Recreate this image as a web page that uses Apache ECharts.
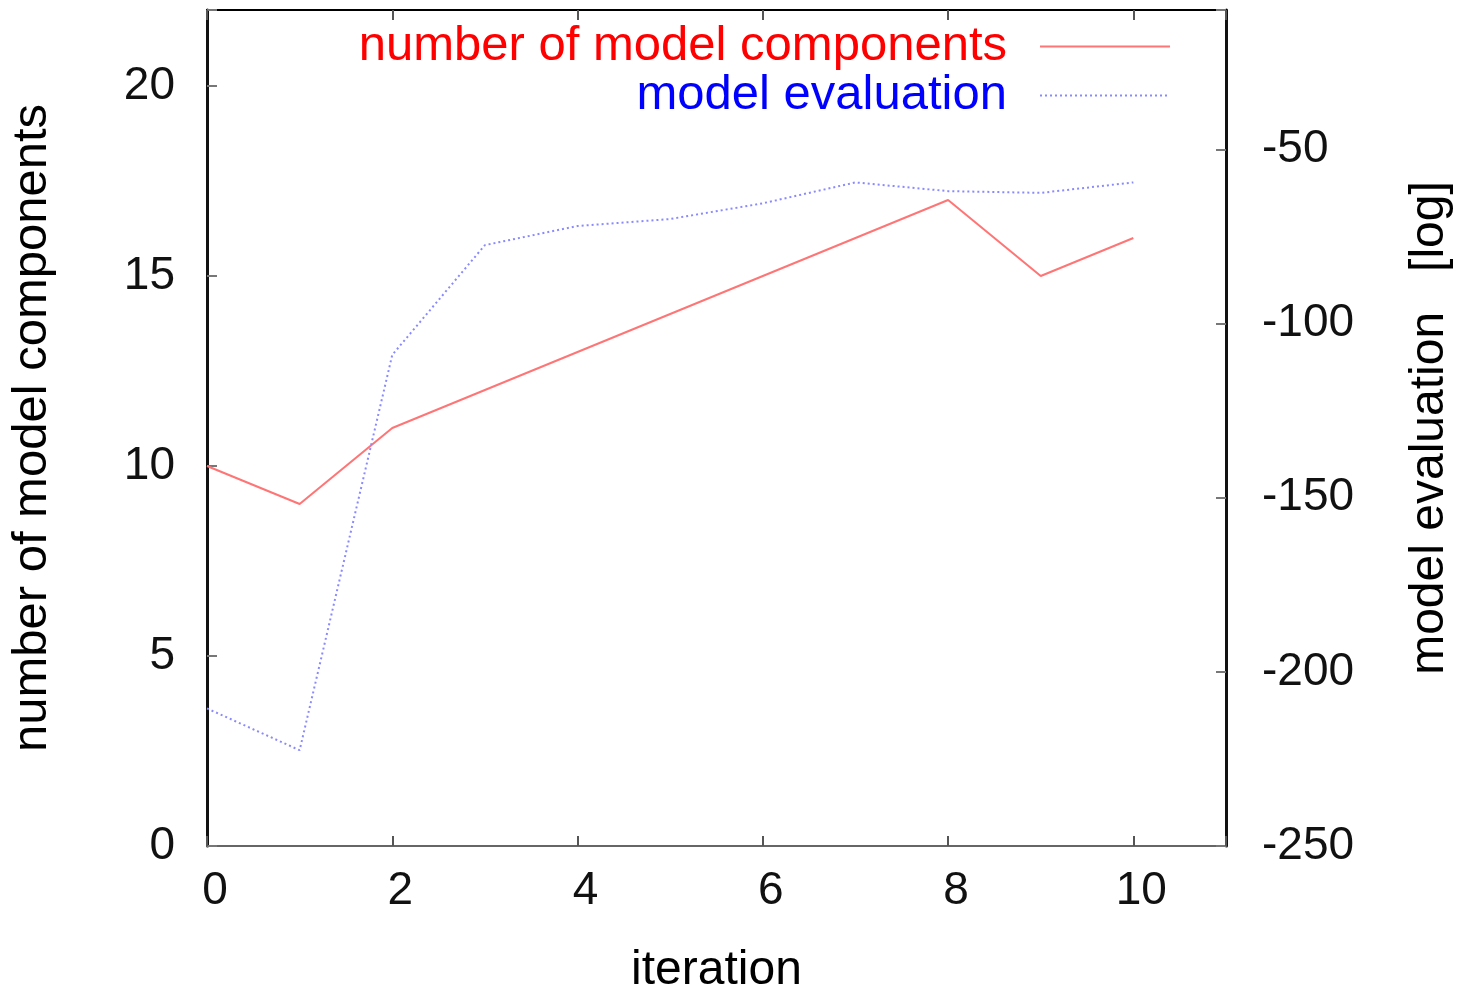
<!DOCTYPE html>
<html>
<head>
<meta charset="utf-8">
<script src="https://cdn.jsdelivr.net/npm/echarts@6/dist/echarts.min.js"></script>
<style>
  html, body { margin: 0; padding: 0; background: #fff; }
  #chart { width: 1459px; height: 989px; }
</style>
</head>
<body>
<div id="chart"></div>
<script>
// iterations on the x axis
var iterations = [0, 1, 2, 3, 4, 5, 6, 7, 8, 9, 10];
// left axis: number of model components
var components = [10, 9, 11, 12, 13, 14, 15, 16, 17, 15, 16];
// right axis: model evaluation (log)
var evaluation = [-210.5, -222.5, -109, -77.5, -72, -70, -65.5, -59.5, -62, -62.5, -59.5];

var font = 'Liberation Sans';

function pairs(xs, ys) {
    var out = [];
    for (var i = 0; i < xs.length; i++) {
        out.push([xs[i], ys[i]]);
    }
    return out;
}

var chart = echarts.init(document.getElementById('chart'));
chart.setOption({
    animation: false,
    backgroundColor: '#fff',
    grid: { left: 207, right: 233, top: 10, bottom: 143, outerBoundsMode: 'none' },
    legend: {
        orient: 'vertical',
        right: 283,
        top: 17,
        align: 'right',
        itemWidth: 130,
        itemHeight: 20,
        itemGap: 0,
        itemStyle: { color: 'transparent', borderWidth: 0 },
        textStyle: { fontFamily: font, fontSize: 49, padding: [0, 28, 0, 0] },
        data: [
            { name: 'number of model components', textStyle: { color: '#ff0000' } },
            { name: 'model evaluation', textStyle: { color: '#0000ff' } }
        ]
    },
    xAxis: [{
        type: 'value',
        min: 0, max: 11, interval: 2,
        name: 'iteration',
        nameLocation: 'middle',
        nameGap: 101,
        nameTextStyle: { fontFamily: font, fontSize: 48, color: '#000' },
        axisLine: { lineStyle: { color: '#666', width: 2 } },
        axisTick: { inside: true, length: 10, lineStyle: { color: '#555', width: 2 } },
        axisLabel: { fontFamily: font, fontSize: 46, color: '#111', margin: 22, padding: [0, 0, 0, 16],
            formatter: function (v) { return v > 10 ? '' : v; } },
        splitLine: { show: false }
    }, {
        type: 'value',
        position: 'top',
        min: 0, max: 11, interval: 2,
        axisLine: { show: true, onZero: false, lineStyle: { color: '#000', width: 2 } },
        axisTick: { inside: true, length: 10, lineStyle: { color: '#555', width: 2 } },
        axisLabel: { show: false },
        splitLine: { show: false }
    }],
    yAxis: [{
        type: 'value',
        min: 0, max: 22, interval: 5,
        name: 'number of model components',
        nameLocation: 'middle',
        nameRotate: 90,
        nameGap: 150,
        nameTextStyle: { fontFamily: font, fontSize: 49, color: '#000' },
        axisLine: { show: true, lineStyle: { color: '#111', width: 3 } },
        axisTick: { show: true, inside: true, length: 10, lineStyle: { color: '#777', width: 2 } },
        axisLabel: { fontFamily: font, fontSize: 46, color: '#111', margin: 32,
            formatter: function (v) { return v > 20 ? '' : v; } },
        splitLine: { show: false }
    }, {
        type: 'value',
        position: 'right',
        min: -250, max: -10, interval: 50,
        name: 'model evaluation   [log]',
        nameLocation: 'middle',
        nameRotate: 90,
        nameGap: 180,
        nameTextStyle: { fontFamily: font, fontSize: 48, color: '#000' },
        axisLine: { show: true, onZero: false, lineStyle: { color: '#111', width: 3 } },
        axisTick: { show: true, inside: true, length: 10, lineStyle: { color: '#777', width: 2 } },
        axisLabel: { fontFamily: font, fontSize: 46, color: '#111', margin: 36,
            formatter: function (v) { return v > -50 ? '' : v; } },
        splitLine: { show: false }
    }],
    series: [{
        name: 'number of model components',
        type: 'line',
        xAxisIndex: 0,
        yAxisIndex: 0,
        symbol: 'none',
        color: '#ff7575',
        lineStyle: { color: '#ff7575', width: 2 },
        data: pairs(iterations, components)
    }, {
        name: 'model evaluation',
        type: 'line',
        xAxisIndex: 0,
        yAxisIndex: 1,
        symbol: 'none',
        color: '#8a8aff',
        lineStyle: { color: '#8a8aff', width: 2, type: [2, 3] },
        data: pairs(iterations, evaluation)
    }]
});
</script>
</body>
</html>
